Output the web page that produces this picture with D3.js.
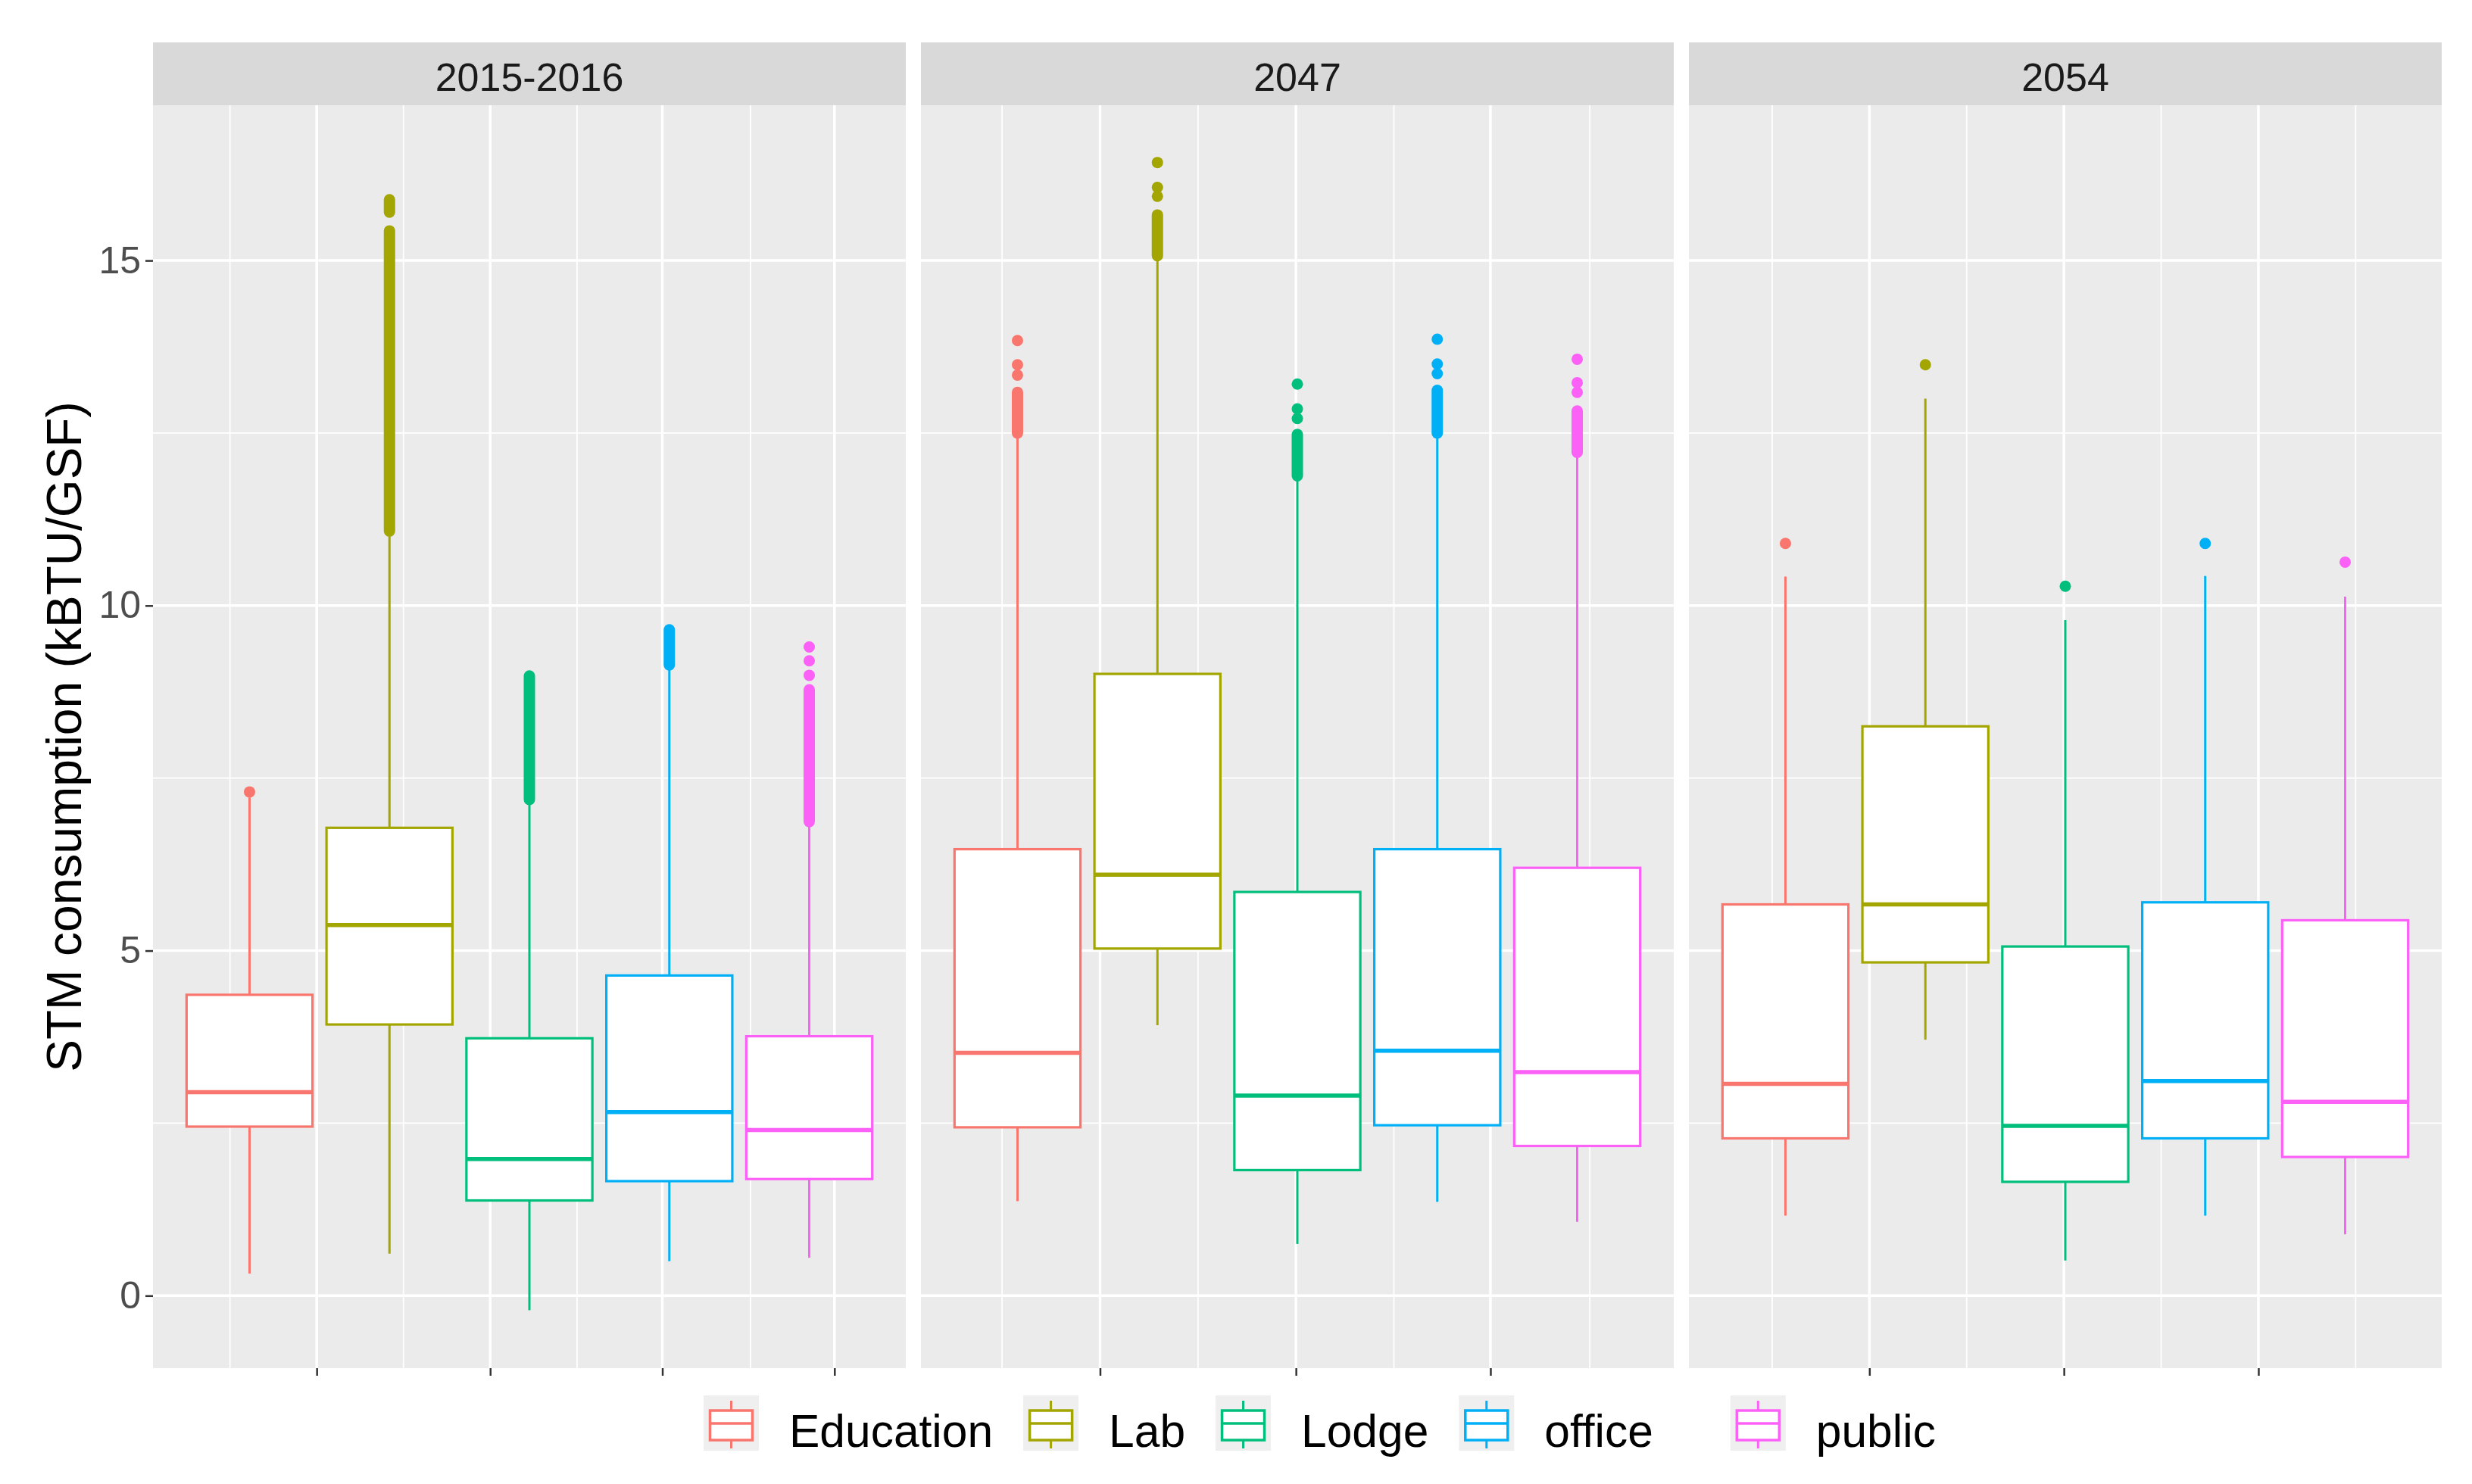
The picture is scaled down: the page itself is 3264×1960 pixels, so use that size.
<!DOCTYPE html>
<html>
<head>
	<meta charset="utf-8">
	<title>STM consumption boxplot</title>
	<script type="text/javascript" src="https://cdn.jsdelivr.net/npm/d3@7/dist/d3.min.js"></script>
	<style>
		body { margin: 0; background: #fff; }
		text { font-family: "Liberation Sans", Arial, sans-serif; }
	</style>
</head>
<body>
	<script type="text/javascript">
		var width = 3264;
		var height = 1960;

		// facets and groups
		var panels = ["2015-2016", "2047", "2054"];
		var categories = ["Education", "Lab", "Lodge", "office", "public"];
		var colors = ["#F8766D", "#A3A500", "#00BF7D", "#00B0F6", "#FB61F7"];

		// box statistics, one row per panel, one value per category
		var lowerWhisker = [[0.32, 0.61, -0.21, 0.50, 0.55],
		                    [1.37, 3.92, 0.75, 1.36, 1.07],
		                    [1.16, 3.71, 0.51, 1.16, 0.89]];
		var q1 = [[2.45, 3.93, 1.38, 1.66, 1.69],
		          [2.44, 5.03, 1.82, 2.47, 2.17],
		          [2.28, 4.83, 1.65, 2.28, 2.01]];
		var median = [[2.95, 5.37, 1.98, 2.66, 2.40],
		              [3.52, 6.10, 2.90, 3.55, 3.24],
		              [3.07, 5.67, 2.46, 3.11, 2.81]];
		var q3 = [[4.36, 6.78, 3.73, 4.64, 3.76],
		          [6.47, 9.01, 5.85, 6.47, 6.20],
		          [5.67, 8.25, 5.06, 5.70, 5.44]];
		var upperWhisker = [[7.22, 11.0, 7.12, 9.08, 6.84],
		                    [12.45, 15.02, 11.85, 12.45, 12.18],
		                    [10.42, 13.0, 9.79, 10.43, 10.13]];

		// single outliers, and dense runs of outliers that overlap into a bar
		var outlierPoints = [[[7.30], [], [], [], [9.40, 9.20, 8.99]],
		                     [[13.84, 13.49, 13.34], [16.42, 16.06, 15.93], [13.21, 12.85, 12.71], [13.86, 13.50, 13.36], [13.57, 13.23, 13.09]],
		                     [[10.90], [13.49], [10.28], [10.90], [10.63]]];
		var outlierRuns = [[[], [[11.08, 15.43], [15.70, 15.88]], [[7.19, 8.98]], [[9.14, 9.65]], [[6.87, 8.78]]],
		                   [[[12.50, 13.09]], [[15.07, 15.66]], [[11.88, 12.48]], [[12.50, 13.12]], [[12.22, 12.82]]],
		                   [[], [], [], [], []]];

		// axis breaks
		var yMajor = [0, 5, 10, 15];
		var yMinor = [2.5, 7.5, 12.5];
		// x breaks (no labels) in box-slot units, they differ by panel
		var xMajor = [[0.48, 1.72, 2.95, 4.18], [0.59, 1.99, 3.38], [0.60, 1.99, 3.38]];

		var panelTop = 139, panelBottom = 1807, stripTop = 56;

		var svg = d3.select("body")
					.append("svg")
					.attr("width", width)
					.attr("height", height);

		var fx = d3.scaleBand().domain(panels).range([202, 3224]).paddingInner(0.0197).paddingOuter(0);
		var bw = fx.bandwidth();
		var x = d3.scaleLinear().domain([-0.69, 4.69]).range([0, bw]);
		var y = d3.scaleLinear().domain([-1.05, 17.25]).range([panelBottom, panelTop]);
		var boxW = 0.9 * (x(1) - x(0));

		panels.forEach(function(p, pi) {
			var g = svg.append("g").attr("transform", "translate(" + fx(p) + ",0)");

			// strip
			g.append("rect")
				.attr("x", 0).attr("y", stripTop)
				.attr("width", bw).attr("height", panelTop - stripTop)
				.attr("fill", "#D9D9D9");
			g.append("text")
				.attr("x", bw / 2).attr("y", 120)
				.attr("text-anchor", "middle")
				.attr("font-size", 52)
				.attr("fill", "#1A1A1A")
				.text(p);

			// panel background
			g.append("rect")
				.attr("x", 0).attr("y", panelTop)
				.attr("width", bw).attr("height", panelBottom - panelTop)
				.attr("fill", "#EBEBEB");

			// minor x grid: midpoints between majors, plus one step beyond each end
			var mj = xMajor[pi];
			var step = mj[1] - mj[0];
			var minors = [];
			for (var k = 0; k <= mj.length; k++) {
				var v = mj[0] - step / 2 + k * step;
				if (v > x.domain()[0] && v < x.domain()[1]) minors.push(v);
			}

			g.selectAll(".ymin").data(yMinor).enter().append("line")
				.attr("x1", 0).attr("x2", bw)
				.attr("y1", function(d){ return y(d); }).attr("y2", function(d){ return y(d); })
				.attr("stroke", "#fff").attr("stroke-width", 1.8);
			g.selectAll(".xmin").data(minors).enter().append("line")
				.attr("x1", function(d){ return x(d); }).attr("x2", function(d){ return x(d); })
				.attr("y1", panelTop).attr("y2", panelBottom)
				.attr("stroke", "#fff").attr("stroke-width", 1.8);
			g.selectAll(".ymaj").data(yMajor).enter().append("line")
				.attr("x1", 0).attr("x2", bw)
				.attr("y1", function(d){ return y(d); }).attr("y2", function(d){ return y(d); })
				.attr("stroke", "#fff").attr("stroke-width", 3.5);
			g.selectAll(".xmaj").data(mj).enter().append("line")
				.attr("x1", function(d){ return x(d); }).attr("x2", function(d){ return x(d); })
				.attr("y1", panelTop).attr("y2", panelBottom)
				.attr("stroke", "#fff").attr("stroke-width", 3.5);

			// x axis: ticks only
			var xa = g.append("g")
				.attr("transform", "translate(0," + panelBottom + ")")
				.call(d3.axisBottom(x).tickValues(mj).tickFormat("").tickSize(10).tickSizeOuter(0));
			xa.select(".domain").remove();
			xa.selectAll(".tick line").attr("stroke", "#333333").attr("stroke-width", 2.5);

			// boxes
			categories.forEach(function(c, ci) {
				var cx = x(ci);
				var col = colors[ci];
				var b = g.append("g");

				b.append("line")
					.attr("x1", cx).attr("x2", cx)
					.attr("y1", y(q3[pi][ci])).attr("y2", y(upperWhisker[pi][ci]))
					.attr("stroke", col).attr("stroke-width", 3);
				b.append("line")
					.attr("x1", cx).attr("x2", cx)
					.attr("y1", y(q1[pi][ci])).attr("y2", y(lowerWhisker[pi][ci]))
					.attr("stroke", col).attr("stroke-width", 3);
				b.append("rect")
					.attr("x", cx - boxW / 2).attr("y", y(q3[pi][ci]))
					.attr("width", boxW).attr("height", y(q1[pi][ci]) - y(q3[pi][ci]))
					.attr("fill", "#fff").attr("stroke", col).attr("stroke-width", 3.2);
				b.append("line")
					.attr("x1", cx - boxW / 2).attr("x2", cx + boxW / 2)
					.attr("y1", y(median[pi][ci])).attr("y2", y(median[pi][ci]))
					.attr("stroke", col).attr("stroke-width", 5.5);

				b.selectAll(".run").data(outlierRuns[pi][ci]).enter().append("line")
					.attr("x1", cx).attr("x2", cx)
					.attr("y1", function(d){ return y(d[0]); }).attr("y2", function(d){ return y(d[1]); })
					.attr("stroke", col).attr("stroke-width", 15).attr("stroke-linecap", "round");
				b.selectAll(".pt").data(outlierPoints[pi][ci]).enter().append("circle")
					.attr("cx", cx).attr("cy", function(d){ return y(d); })
					.attr("r", 7.5).attr("fill", col);
			});

			// y axis on first panel
			if (pi === 0) {
				var ya = g.append("g")
					.call(d3.axisLeft(y).tickValues(yMajor).tickSize(10).tickPadding(6).tickSizeOuter(0));
				ya.select(".domain").remove();
				ya.selectAll(".tick line").attr("stroke", "#333333").attr("stroke-width", 2.5);
				ya.selectAll(".tick text")
					.attr("font-size", 50)
					.attr("fill", "#4D4D4D")
					.attr("font-family", "Liberation Sans, Arial, sans-serif");
			}
		});

		// y axis title
		svg.append("text")
			.attr("transform", "translate(107," + ((panelTop + panelBottom) / 2) + ") rotate(-90)")
			.attr("text-anchor", "middle")
			.attr("font-size", 64)
			.attr("fill", "#000")
			.text("STM consumption (kBTU/GSF)");

		// legend
		var legend = svg.append("g");
		var lx = 929, keyTop = 1843, keySize = 73;
		categories.forEach(function(c, ci) {
			if (ci === 4) lx += 62;
			var item = legend.append("g").attr("transform", "translate(" + lx + "," + keyTop + ")");
			item.append("rect")
				.attr("width", keySize).attr("height", keySize)
				.attr("fill", "#EFEFEF");
			var mid = keySize / 2;
			item.append("line")
				.attr("x1", mid).attr("x2", mid).attr("y1", 7).attr("y2", keySize - 3)
				.attr("stroke", colors[ci]).attr("stroke-width", 3);
			item.append("rect")
				.attr("x", mid - 28).attr("y", 20)
				.attr("width", 56).attr("height", 39)
				.attr("fill", "#fff").attr("stroke", colors[ci]).attr("stroke-width", 3.5);
			item.append("line")
				.attr("x1", mid - 28).attr("x2", mid + 28).attr("y1", 37).attr("y2", 37)
				.attr("stroke", colors[ci]).attr("stroke-width", 3.5);
			var t = item.append("text")
				.attr("x", keySize + 40).attr("y", 68)
				.attr("font-size", 60.5)
				.attr("fill", "#000")
				.text(c);
			lx += keySize + 40 + t.node().getComputedTextLength() + 40;
		});
	</script>
</body>
</html>
